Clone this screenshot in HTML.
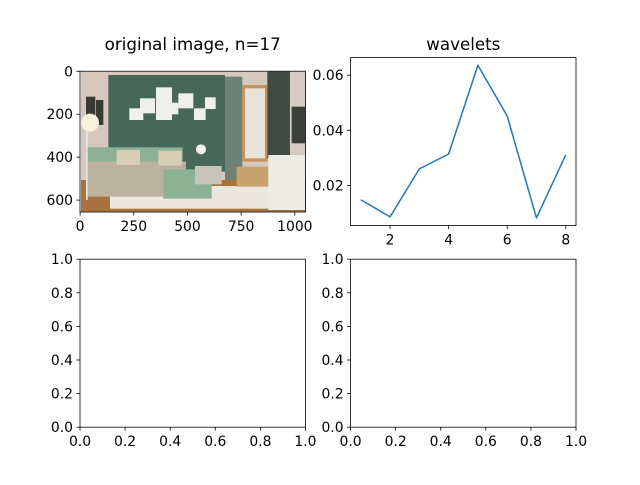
<!DOCTYPE html>
<html><head><meta charset="utf-8"><style>
html,body{margin:0;padding:0;background:#fff}
svg text{font-family:"DejaVu Sans","Liberation Sans",sans-serif;fill:#000}
</style></head><body>
<svg id="fig" width="640" height="480" viewBox="0 0 640 480">
<rect width="640" height="480" fill="#fff"/>
<g transform="translate(70,60) scale(0.3333)">
 <rect x="33" y="35" width="674" height="420" fill="#d6c8bc"/>
 <rect x="115" y="45" width="350" height="290" fill="#47675a"/>
 <rect x="465" y="50" width="52" height="320" fill="#6d8176"/>
 <rect x="517" y="75" width="75" height="230" fill="#c59459"/>
 <rect x="525" y="85" width="60" height="210" fill="#e6e3da"/>
 <rect x="592" y="35" width="68" height="260" fill="#3f4c45"/>
 <rect x="660" y="35" width="47" height="240" fill="#d9ccc2"/>
 <rect x="665" y="140" width="40" height="110" fill="#3a3f3c"/>
 <rect x="33" y="360" width="674" height="95" fill="#a9733f"/>
 <rect x="120" y="378" width="500" height="68" fill="#ecE8df"/>
 <rect x="48" y="110" width="28" height="55" fill="#3b3a36"/>
 <rect x="78" y="120" width="22" height="75" fill="#3b3a36"/>
 <rect x="178" y="145" width="42" height="35" fill="#f1f1ee"/>
 <rect x="210" y="115" width="45" height="45" fill="#efefec"/>
 <rect x="258" y="82" width="48" height="98" fill="#efefec"/>
 <rect x="290" y="128" width="35" height="35" fill="#efefec"/>
 <rect x="325" y="100" width="45" height="45" fill="#efefec"/>
 <rect x="372" y="145" width="35" height="35" fill="#efefec"/>
 <rect x="405" y="112" width="32" height="35" fill="#efefec"/>
 <rect x="48" y="262" width="290" height="60" fill="#8db195"/>
 <rect x="48" y="305" width="300" height="105" fill="#bbb19f"/>
 <rect x="140" y="270" width="70" height="45" fill="#d8cdb5"/>
 <rect x="265" y="272" width="70" height="45" fill="#d8cdb5"/>
 <rect x="280" y="328" width="145" height="88" fill="#8db293"/>
 <rect x="375" y="318" width="80" height="55" fill="#c9c4ba"/>
 <rect x="500" y="320" width="95" height="60" fill="#c7a46f"/>
 <rect x="595" y="285" width="110" height="165" fill="#ecebe6"/>
 <circle cx="60" cy="188" r="27" fill="#f8f2dc"/>
 <rect x="48" y="210" width="5" height="210" fill="#eae6dd"/>
 <circle cx="393" cy="268" r="15" fill="#f4f2ec"/>
</g>
<g id="axes"></g>
</svg>
<script>
const waveX=[1,2,3,4,5,6,7,8];
const waveY=[0.0148,0.0086,0.0260,0.0314,0.0636,0.0452,0.0082,0.0311];
const waveYTicks=[0.02,0.04,0.06];
const waveXTicks=[2,4,6,8];
const imgXTicks=[0,250,500,750,1000];
const imgYTicks=[0,200,400,600];
const unitTicks=[0,0.2,0.4,0.6,0.8,1.0];
const NS="http://www.w3.org/2000/svg";
const G=document.getElementById('axes');
function mk(tag,at,parent){const e=document.createElementNS(NS,tag);for(const k in at)e.setAttribute(k,at[k]);(parent||G).appendChild(e);return e;}
function axis(x0,y0,w,h,xmin,xmax,ymin,ymax,xt,yt,fmtX,fmtY,name,invY){
 const g=mk('g',{});
 
 
 const sx=v=>x0+(v-xmin)/(xmax-xmin)*w;
 const sy=invY?(v=>y0+(v-ymin)/(ymax-ymin)*h):(v=>y0+h-(v-ymin)/(ymax-ymin)*h);
 xt.forEach(v=>{const x=sx(v);
  const t=mk('line',{x1:x,x2:x,y1:y0+h,y2:y0+h+3.5,stroke:'#000','stroke-width':0.8},g);
  
  
  const l=mk('text',{x:x,y:y0+h+19,'text-anchor':'middle','font-size':'13.9px'},g);l.textContent=fmtX(v);
  
  });
 yt.forEach(v=>{const y=sy(v);
  const t=mk('line',{x1:x0-3.5,x2:x0,y1:y,y2:y,stroke:'#000','stroke-width':0.8},g);
  
  
  const l=mk('text',{x:x0-7,y:y+5,'text-anchor':'end','font-size':'13.9px'},g);l.textContent=fmtY(v);
  
  });
 return {g,sx,sy,frame:()=>{const r=mk('rect',{x:x0,y:y0,width:w,height:h,fill:'none',stroke:'#000','stroke-width':0.8},g);
  
  }};
}
// image axes
const A1=axis(80,71.2,225.45,140.8,-0.5,1049.5,-0.5,655.5,imgXTicks,imgYTicks,String,String,'image-axes',true);
A1.frame();
let t1=mk('text',{x:192.7,y:50,'text-anchor':'middle','font-size':'16.7px'});t1.textContent='original image, n=17';


// wavelets
const mn=Math.min(...waveY),mx=Math.max(...waveY),m=(mx-mn)*0.05;
const A2=axis(350.55,57.6,225.45,168,0.65,8.35,mn-m,mx+m,waveXTicks,waveYTicks,String,v=>v.toFixed(2),'wavelets-axes');
const pl=mk('polyline',{points:waveX.map((x,i)=>A2.sx(x)+','+A2.sy(waveY[i])).join(' '),fill:'none',stroke:'#1f77b4','stroke-width':1.5,'stroke-linejoin':'round'},A2.g);


A2.frame();
let t2=mk('text',{x:463.3,y:50,'text-anchor':'middle','font-size':'16.7px'});t2.textContent='wavelets';


// empty axes
const A3=axis(80,259.2,225.45,168,0,1,0,1,unitTicks,unitTicks,v=>v.toFixed(1),v=>v.toFixed(1),'empty-axes-left');A3.frame();
const A4=axis(350.55,259.2,225.45,168,0,1,0,1,unitTicks,unitTicks,v=>v.toFixed(1),v=>v.toFixed(1),'empty-axes-right');A4.frame();
</script>
</body></html>
